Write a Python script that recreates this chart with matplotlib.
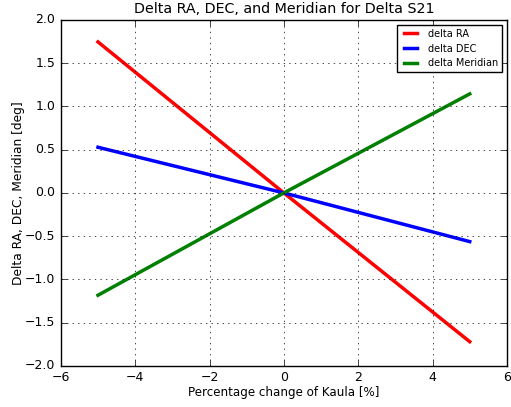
import numpy as np
import matplotlib
matplotlib.use('Agg')
import matplotlib.pyplot as plt

# percentage change of the Kaula constraint
kaula_pct = [-5.0, 0.0, 5.0]

# resulting shifts in degrees
delta_ra = [1.746, 0.0, -1.72]
delta_dec = [0.528, 0.0, -0.563]
delta_meridian = [-1.183, 0.0, 1.145]

plt.style.use('classic')
fig = plt.figure(figsize=(5.11, 4.07), dpi=100)
ax = fig.add_subplot(111)
fig.subplots_adjust(left=0.119, right=0.992, top=0.951, bottom=0.101)

ax.plot(kaula_pct, delta_ra, color='r', lw=2.5, label='delta RA')
ax.plot(kaula_pct, delta_dec, color='b', lw=2.5, label='delta DEC')
ax.plot(kaula_pct, delta_meridian, color='g', lw=2.5, label='delta Meridian')

ax.set_xlim(-6, 6)
ax.set_ylim(-2, 2)
ax.set_yticks(np.arange(-2, 2.01, 0.5))
ax.tick_params(labelsize=9)
ax.grid(True)
ax.set_xlabel('Percentage change of Kaula [%]', fontsize=8.6, labelpad=1)
ax.set_ylabel('Delta RA, DEC, Meridian [deg]', fontsize=8.8, labelpad=0)
ax.set_title('Delta RA, DEC, and Meridian for Delta S21', fontsize=10.3, y=1.0)
ax.legend(loc='upper right', fontsize=7)

fig.savefig('out.png', dpi=100)
